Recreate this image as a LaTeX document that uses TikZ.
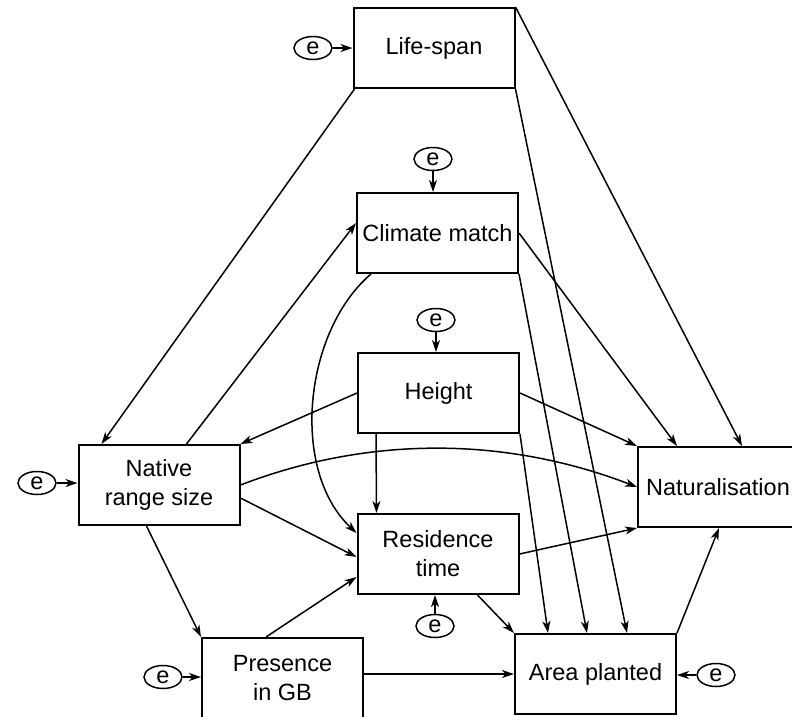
\documentclass[tikz,border=0pt]{standalone}
\usepackage{fontspec}
\setmainfont{Liberation Sans}
\usetikzlibrary{arrows.meta,shapes.geometric}

\tikzset{
  var/.style={draw, line width=2pt, rectangle, minimum width=161pt, minimum height=80pt,
    inner sep=0pt, align=center, font=\fontsize{23.5}{29}\selectfont},
  err/.style={draw, line width=1.5pt, ellipse, minimum width=38pt, minimum height=23pt,
    inner sep=0pt, font=\fontsize{23.5}{29}\selectfont},
  path/.style={line width=1.5pt, -{Stealth[length=12pt,width=8pt,inset=3.5pt]}},
}

\begin{document}
\begin{tikzpicture}[x=1pt,y=-1pt]
\clip (0,0) rectangle (792,716);

% observed variables
\node[var] (life)  at (434,48)    {Life-span};
\node[var] (clim)  at (437.5,233) {Climate match};
\node[var] (hgt)   at (438.5,393) {Height};
\node[var] (nrs)   at (159,485)   {Native\\range size};
\node[var] (res)   at (438,554)   {Residence\\time};
\node[var] (pres)  at (282.5,678) {Presence\\in GB};
\node[var] (area)  at (595.5,674) {Area planted};
\node[var, minimum width=160pt] (nat) at (718,487) {Naturalisation};

% error terms
\node[err] (elife) at (313,48)  {e};
\node[err] (eclim) at (433,159) {e};
\node[err] (ehgt)  at (436,320) {e};
\node[err] (enrs)  at (37,483)  {e};
\node[err] (eres)  at (435,626) {e};
\node[err] (epres) at (163,677) {e};
\node[err] (earea) at (716,675) {e};

\draw[path] (elife) -- (life);
\draw[path] (eclim) -- (eclim |- clim.north);
\draw[path] (ehgt) -- (ehgt |- hgt.north);
\draw[path] (enrs) -- (enrs -| nrs.west);
\draw[path] (eres) -- (eres |- res.south);
\draw[path] (epres) -- (epres -| pres.west);
\draw[path] (earea) -- (earea -| area.east);

% paths from life-span
\draw[path] ([xshift=2pt]life.south west) -- ([xshift=24pt]nrs.north west);
\draw[path] (life.south east) -- ([xshift=113pt]area.north west);
\draw[path] (life.north east) -- ([xshift=105pt]nat.north west);

% paths from native range size
\draw[path] ([xshift=109pt]nrs.north west) -- ([yshift=10pt]clim.west);
\draw[path] (nrs.east) .. controls +(130,-50) and +(-130,-50) .. (nat.west);
\draw[path] ([yshift=-13pt]nrs.east) -- ([yshift=-3pt]res.west);
\draw[path] ([xshift=69pt]nrs.south west) -- (pres.north west);

% paths from climate match
\draw[path] ([xshift=15pt]clim.south west) .. controls +(-67,57) and +(-67,-63) .. ([yshift=21pt]res.west);
\draw[path] (clim.east) -- ([xshift=40pt]nat.north west);
\draw[path] (clim.south east) -- ([xshift=73pt]area.north west);

% paths from height
\draw[path] (hgt.west) -- (nrs.north east);
\draw[path] ([xshift=19pt]hgt.south west) -- ([xshift=20pt]res.north west);
\draw[path] (hgt.east) -- (nat.north west);
\draw[path] (hgt.south east) -- ([xshift=34pt]area.north west);

% paths from presence in GB
\draw[path] ([xshift=65pt]pres.north west) -- ([yshift=-23pt]res.west);
\draw[path] (pres.east |- area.west) -- (area.west);

% paths from residence time and area planted
\draw[path] (res.east) -- (nat.south west);
\draw[path] ([xshift=121pt]res.south west) -- (area.north west);
\draw[path] (area.north east) -- ([xshift=82pt]nat.south west);
\end{tikzpicture}
\end{document}
